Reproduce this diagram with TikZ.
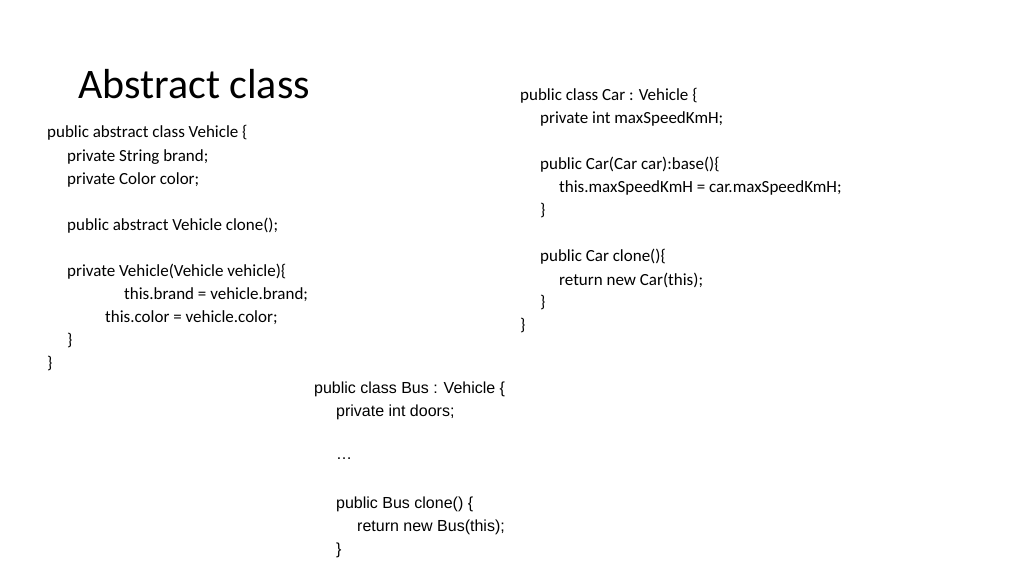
\documentclass[tikz,border=0pt]{standalone}
\usepackage{fontspec}
\setmainfont{Carlito}
\newfontfamily\arialfont{Liberation Sans}
\usetikzlibrary{positioning}
\tikzset{
    code/.style={anchor=west, inner sep=0pt, font=\fontsize{17}{20}\selectfont},
    buscode/.style={anchor=west, inner sep=0pt, font=\arialfont\fontsize{16}{19}\selectfont},
    title/.style={anchor=west, inner sep=0pt, font=\fontsize{42}{48}\selectfont}
}
\begin{document}
\begin{tikzpicture}[x=1pt, y=-1pt]
    \useasboundingbox (0,0) rectangle (1024,576);

    % -- Title --
    \node (title) [title] at (78,84) {Abstract class};

    % -- Vehicle --
    \node (v1) [code] at (47,133) {public abstract class Vehicle \{};
    \node (v2) [code] at (67,157) {private String brand;};
    \node (v3) [code] at (67,180) {private Color color;};
    \node (v4) [code] at (67,226) {public abstract Vehicle clone();};
    \node (v5) [code] at (67,272) {private Vehicle(Vehicle vehicle)\{};
    \node (v6) [code] at (124,295) {this.brand = vehicle.brand;};
    \node (v7) [code] at (105,318) {this.color = vehicle.color;};
    \node (v8) [code] at (67,341) {\}};
    \node (v9) [code] at (47,364) {\}};

    % -- Car --
    \node (c1) [code] at (520,96) {public class Car : Vehicle \{};
    \node (c2) [code] at (540,119) {private int maxSpeedKmH;};
    \node (c3) [code] at (540,165) {public Car(Car car):base()\{};
    \node (c4) [code] at (559,188) {this.maxSpeedKmH = car.maxSpeedKmH;};
    \node (c5) [code] at (540,211) {\}};
    \node (c6) [code] at (540,257) {public Car clone()\{};
    \node (c7) [code] at (559,280) {return new Car(this);};
    \node (c8) [code] at (540,303) {\}};
    \node (c9) [code] at (520,326) {\}};

    % -- Bus --
    \node (b1) [buscode] at (314,389) {public class Bus : Vehicle \{};
    \node (b2) [buscode] at (336,412) {private int doors;};
    \node (b3) [buscode] at (336,459) {\dots};
    \node (b4) [buscode] at (336,504) {public Bus clone() \{};
    \node (b5) [buscode] at (357,527) {return new Bus(this);};
    \node (b6) [buscode] at (336,550) {\}};
\end{tikzpicture}
\end{document}
